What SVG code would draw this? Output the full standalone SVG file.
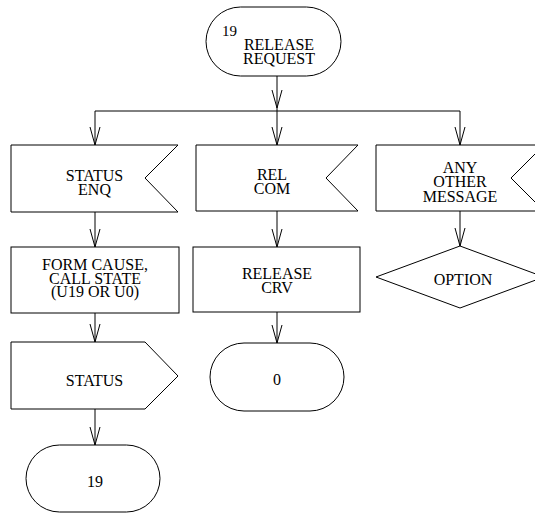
<svg xmlns="http://www.w3.org/2000/svg" width="535" height="513" viewBox="0 0 535 513">
  <style>
    .shape { fill: #fff; stroke: #000; stroke-width: 1; }
    .wire { fill: none; stroke: #000; stroke-width: 1; }
    .lbl { font-family: 'Liberation Serif', 'DejaVu Serif', serif; font-size: 16px; fill: #000; text-anchor: middle; }
    .sup { font-family: 'Liberation Serif', 'DejaVu Serif', serif; font-size: 15px; fill: #000; }
  </style>
  <defs>
    <!-- open "V" arrowhead used on every flow line -->
    <marker id="vee" markerUnits="userSpaceOnUse" markerWidth="20" markerHeight="12" refX="0" refY="0" viewBox="-19 -6 20 12" orient="auto" overflow="visible">
      <path d="M-18,-5 L0,0 L-18,5" fill="none" stroke="#000" stroke-width="1"/>
    </marker>
  </defs>
  <rect width="535" height="513" fill="#fff"/>

  <g id="connectors">
    <path class="wire" d="M277,76 V108" marker-end="url(#vee)"/>
    <path class="wire" d="M277,108 V145" marker-end="url(#vee)"/>
    <path class="wire" d="M95,111 H460"/>
    <path class="wire" d="M95,111 V145" marker-end="url(#vee)"/>
    <path class="wire" d="M460,111 V145" marker-end="url(#vee)"/>
    <path class="wire" d="M95,212 V247" marker-end="url(#vee)"/>
    <path class="wire" d="M95,313 V342" marker-end="url(#vee)"/>
    <path class="wire" d="M95,409 V445" marker-end="url(#vee)"/>
    <path class="wire" d="M277,211 V247" marker-end="url(#vee)"/>
    <path class="wire" d="M277,312 V343" marker-end="url(#vee)"/>
    <path class="wire" d="M460,211 V246" marker-end="url(#vee)"/>
  </g>

  <g id="release-request">
    <rect class="shape" x="206" y="7" width="135" height="69" rx="34.5" ry="34.5"/>
    <text class="sup" x="222" y="36">19</text>
    <text class="lbl"><tspan x="279" y="50">RELEASE</tspan><tspan x="279" y="64">REQUEST</tspan></text>
  </g>

  <g id="status-enq">
    <path class="shape" d="M11,145 H178 L145,178 L178,212 H11 Z"/>
    <text class="lbl"><tspan x="94.5" y="181">STATUS</tspan><tspan x="94.5" y="195">ENQ</tspan></text>
  </g>

  <g id="rel-com">
    <path class="shape" d="M196,145 H358 L326,178 L358,211 H196 Z"/>
    <text class="lbl"><tspan x="272" y="180">REL</tspan><tspan x="272" y="194">COM</tspan></text>
  </g>

  <g id="any-other-message">
    <path class="shape" d="M376,145 H544 L511,178 L544,211 H376 Z"/>
    <text class="lbl"><tspan x="460" y="173">ANY</tspan><tspan x="460" y="187">OTHER</tspan><tspan x="460" y="202">MESSAGE</tspan></text>
  </g>

  <g id="form-cause">
    <rect class="shape" x="11" y="247" width="168" height="66"/>
    <text class="lbl"><tspan x="95" y="270">FORM CAUSE,</tspan><tspan x="95" y="284">CALL STATE</tspan><tspan x="95" y="297">(U19 OR U0)</tspan></text>
  </g>

  <g id="release-crv">
    <rect class="shape" x="193" y="247" width="167" height="65"/>
    <text class="lbl"><tspan x="277" y="279">RELEASE</tspan><tspan x="277" y="293">CRV</tspan></text>
  </g>

  <g id="option">
    <path class="shape" d="M460,246 L544,277 L460,308 L376,277 Z"/>
    <text class="lbl" x="463" y="285">OPTION</text>
  </g>

  <g id="status-out">
    <path class="shape" d="M11,342 H145 L178,376 L145,409 H11 Z"/>
    <text class="lbl" x="94.5" y="386">STATUS</text>
  </g>

  <g id="state-0">
    <rect class="shape" x="210" y="343" width="134" height="68" rx="34" ry="34"/>
    <text class="lbl" x="277" y="385">0</text>
  </g>

  <g id="state-19">
    <rect class="shape" x="26" y="445" width="134" height="67" rx="33.5" ry="33.5"/>
    <text class="lbl" x="95" y="487">19</text>
  </g>
</svg>
